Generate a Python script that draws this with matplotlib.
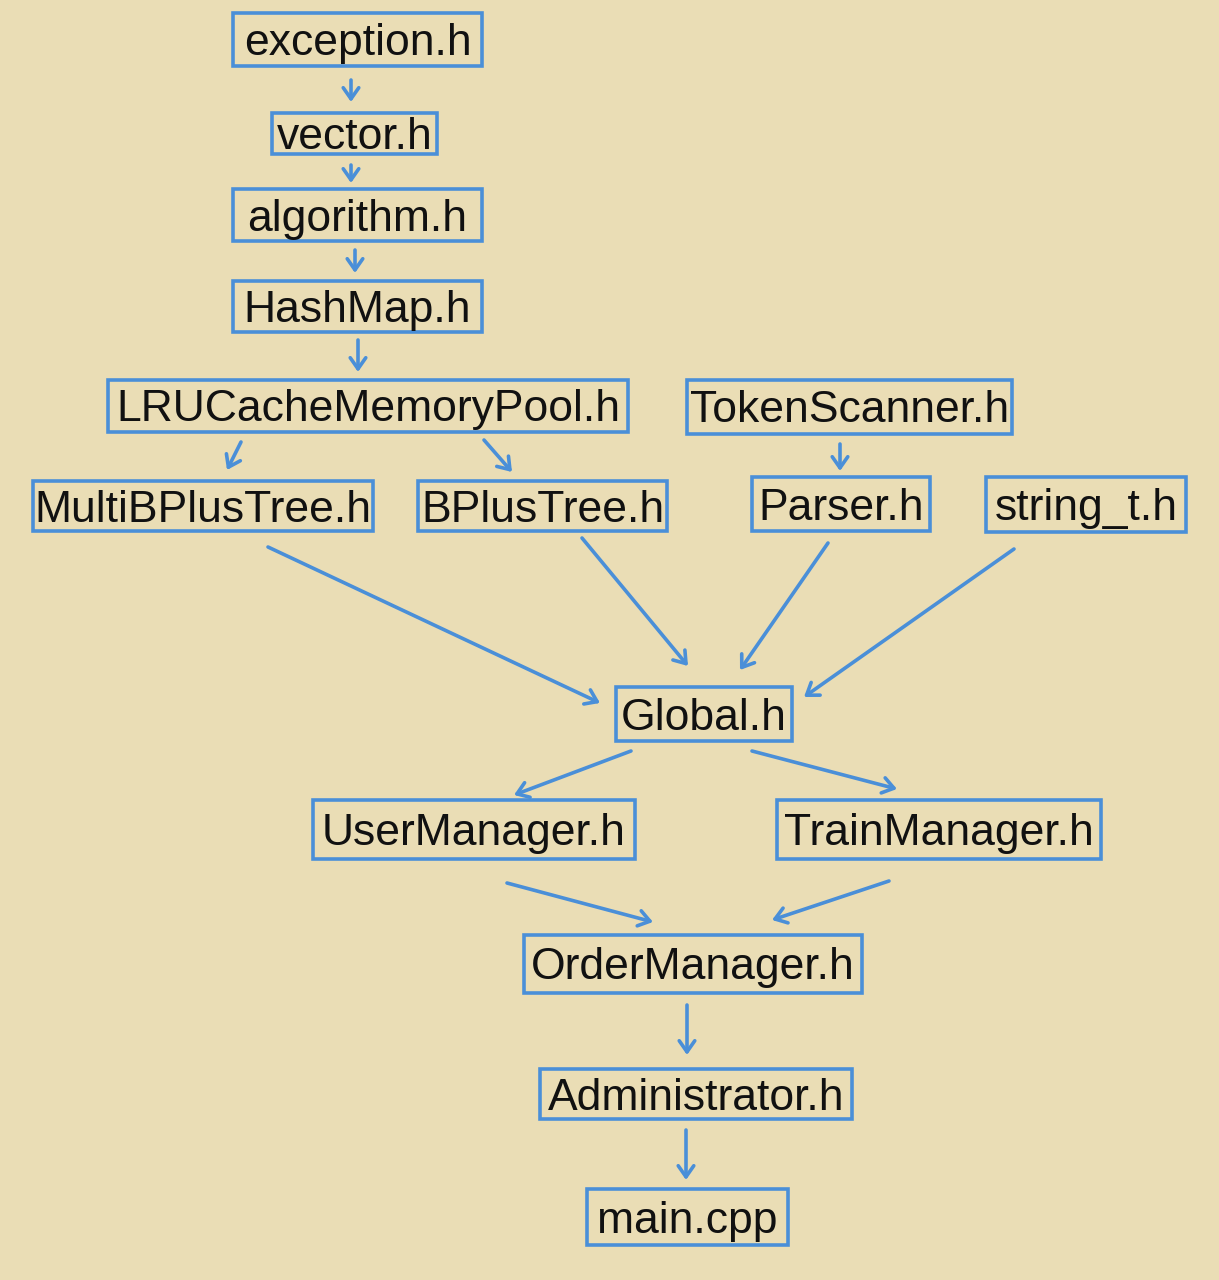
import matplotlib
matplotlib.use("Agg")
import matplotlib.pyplot as plt
from matplotlib.patches import Rectangle, FancyArrowPatch

# Node labels
labels = ["exception.h", "vector.h", "algorithm.h", "HashMap.h",
          "LRUCacheMemoryPool.h", "TokenScanner.h",
          "MultiBPlusTree.h", "BPlusTree.h", "Parser.h", "string_t.h",
          "Global.h", "UserManager.h", "TrainManager.h",
          "OrderManager.h", "Administrator.h", "main.cpp"]

# Layout: box extents in pixel coordinates (x0, y0, x1, y1)
boxes = {
    "exception.h": (233, 13, 482, 66),
    "vector.h": (272, 113, 437, 154),
    "algorithm.h": (233, 189, 482, 241),
    "HashMap.h": (233, 281, 482, 332),
    "LRUCacheMemoryPool.h": (108, 380, 628, 432),
    "TokenScanner.h": (687, 380, 1012, 434),
    "MultiBPlusTree.h": (33, 481, 373, 531),
    "BPlusTree.h": (418, 481, 667, 531),
    "Parser.h": (752, 477, 930, 531),
    "string_t.h": (986, 477, 1186, 532),
    "Global.h": (616, 687, 792, 741),
    "UserManager.h": (313, 800, 635, 859),
    "TrainManager.h": (777, 800, 1101, 859),
    "OrderManager.h": (524, 935, 862, 993),
    "Administrator.h": (540, 1069, 852, 1119),
    "main.cpp": (587, 1189, 788, 1245),
}

# Arrow drawing layout (start -> end) in pixel coordinates
arrows = [
    ((351, 80), (351, 102)),
    ((351, 165), (351, 183)),
    ((355, 250), (355, 273)),
    ((358, 340), (358, 372)),
    ((241, 442), (227, 470)),
    ((484, 440), (512, 472)),
    ((840, 444), (840, 471)),
    ((268, 547), (600, 703)),
    ((582, 538), (688, 666)),
    ((828, 543), (740, 670)),
    ((1014, 549), (804, 697)),
    ((631, 751), (514, 795)),
    ((752, 751), (897, 789)),
    ((507, 883), (653, 922)),
    ((889, 881), (772, 920)),
    ((687, 1005), (687, 1055)),
    ((686, 1130), (686, 1180)),
]

BG = "#EADDB5"
BLUE = "#4A8FD8"

fig = plt.figure(figsize=(12.19, 12.80), dpi=100)
fig.patch.set_facecolor(BG)
ax = fig.add_axes([0, 0, 1, 1])
ax.set_facecolor(BG)
ax.set_xlim(0, 1219)
ax.set_ylim(1280, 0)
ax.axis("off")

for name in labels:
    x0, y0, x1, y1 = boxes[name]
    ax.add_patch(Rectangle((x0, y0), x1 - x0, y1 - y0, fill=False,
                           edgecolor=BLUE, linewidth=2.6))
    ax.text((x0 + x1) / 2, (y0 + y1) / 2 + 4, name, ha="center", va="center",
            fontsize=32, family=["Liberation Sans", "DejaVu Sans"], color="#111111")

for (s, e) in arrows:
    ax.add_patch(FancyArrowPatch(s, e, arrowstyle="->,head_length=5,head_width=3.5",
                                 color=BLUE, linewidth=2.6, mutation_scale=1.6,
                                 shrinkA=0, shrinkB=0, capstyle="round",
                                 joinstyle="round"))

fig.savefig("out.png", dpi=100, facecolor=BG)
